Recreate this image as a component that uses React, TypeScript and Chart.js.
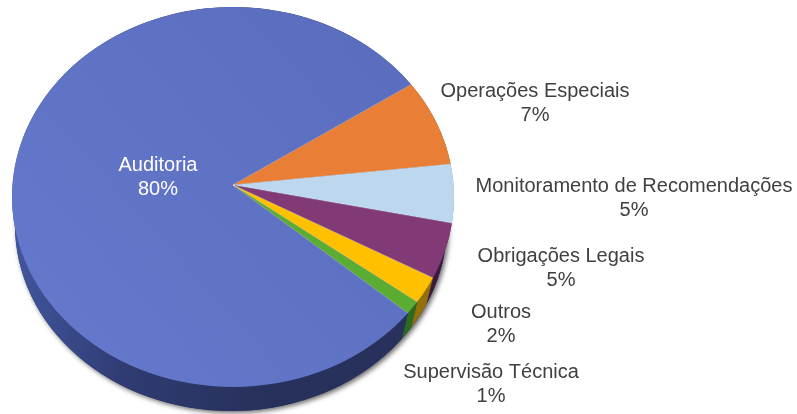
import React, { useEffect, useRef } from "react";
import { Chart, registerables } from "chart.js";

Chart.register(...registerables);

const categories = ["Auditoria", "Operações Especiais", "Monitoramento de Recomendações", "Obrigações Legais", "Outros", "Supervisão Técnica"];
const sliceShares = [81.77, 6.65, 4.27, 4.17, 2.09, 1.04];
const percentLabels = ["80%", "7%", "5%", "5%", "2%", "1%"];
const faceColors = ["#6276c9", "#e97f36", "#bdd7ee", "#813a76", "#ffc000", "#5aad32"];
const sideColors = ["#28315c", "#8a4a1c", "#6f8296", "#3c1a3e", "#94700a", "#2c6a1c"];
const labelAnchors = [
  [158, 171], [535, 97], [634, 192], [561, 262], [501, 318], [491, 378],
];
const labelColors = ["#ffffff", "#404040", "#404040", "#404040", "#404040", "#404040"];

// layout of the tilted disc: apex of the wedges, top face and lower rim ellipses
const APEX_X = 233, APEX_Y = 185;
const TOP = { x: 233, y: 197, rx: 221, ry: 190 };
const LOW = { x: 231, y: 225, rx: 216, ry: 186 };
const WEDGE_RADIUS = 260, LINE_GAP = 23.7;

// parameter on the top ellipse hit by a ray leaving the apex at the given angle
function rayParam(angle: number) {
  const dx = Math.cos(angle) / TOP.rx;
  const dy = Math.sin(angle) / TOP.ry;
  const ox = (APEX_X - TOP.x) / TOP.rx;
  const oy = (APEX_Y - TOP.y) / TOP.ry;
  const a = dx * dx + dy * dy;
  const b = 2 * (ox * dx + oy * dy);
  const c = ox * ox + oy * oy - 1;
  const t = (-b + Math.sqrt(b * b - 4 * a * c)) / (2 * a);
  return Math.atan2(oy + t * dy, ox + t * dx);
}

const piePlugin = {
  id: "tiltedPie",
  beforeDatasetsDraw(chart: any) {
    const ctx: CanvasRenderingContext2D = chart.ctx;
    const arcs = chart.getDatasetMeta(0).data;
    // soft shadow under the rim
    ctx.save();
    ctx.shadowColor = "rgba(0,0,0,0.6)";
    ctx.shadowBlur = 5;
    ctx.shadowOffsetX = 2;
    ctx.shadowOffsetY = 2;
    ctx.fillStyle = "#28315c";
    ctx.beginPath();
    ctx.ellipse(LOW.x, LOW.y, LOW.rx, LOW.ry, 0, 0, Math.PI * 2);
    ctx.fill();
    ctx.restore();
    // rim of every slice
    arcs.forEach((arc: any, i: number) => {
      const t0 = rayParam(arc.startAngle);
      let t1 = rayParam(arc.endAngle);
      if (t1 <= t0) t1 += Math.PI * 2;
      if (i === 0) {
        const g = ctx.createLinearGradient(TOP.x - TOP.rx, 0, TOP.x + 30, 0);
        g.addColorStop(0, "#42569f");
        g.addColorStop(0.45, "#2f3b72");
        g.addColorStop(1, sideColors[0]);
        ctx.fillStyle = g;
      } else {
        ctx.fillStyle = sideColors[i];
      }
      ctx.beginPath();
      ctx.ellipse(TOP.x, TOP.y, TOP.rx, TOP.ry, 0, t0, t1);
      ctx.ellipse(LOW.x, LOW.y, LOW.rx, LOW.ry, 0, t1, t0, true);
      ctx.closePath();
      ctx.fill();
    });
    // the round wedges are cut to the elliptical face
    ctx.save();
    ctx.beginPath();
    ctx.ellipse(TOP.x, TOP.y, TOP.rx, TOP.ry, 0, 0, Math.PI * 2);
    ctx.clip();
  },
  afterDatasetsDraw(chart: any) {
    const ctx: CanvasRenderingContext2D = chart.ctx;
    ctx.restore();
    ctx.save();
    ctx.font = '20px "Liberation Sans"';
    ctx.textAlign = "center";
    ctx.textBaseline = "alphabetic";
    categories.forEach((name, i) => {
      const [x, y] = labelAnchors[i];
      ctx.fillStyle = labelColors[i];
      ctx.fillText(name, x, y);
      ctx.fillText(percentLabels[i], x, y + LINE_GAP);
    });
    ctx.restore();
  },
};

export default function App() {
  const ref = useRef<HTMLCanvasElement>(null);
  useEffect(() => {
    document.body.style.margin = "0";
    const canvas = ref.current!;
    const c2d = canvas.getContext("2d")!;
    const blue = c2d.createLinearGradient(TOP.x - TOP.rx, 400, TOP.x + TOP.rx, 0);
    blue.addColorStop(0, "#667ace");
    blue.addColorStop(1, "#586bbb");
    const chart = new Chart(canvas, {
      type: "pie",
      data: {
        labels: categories,
        datasets: [{
          data: sliceShares,
          backgroundColor: [blue, ...faceColors.slice(1)],
          borderWidth: 0.6,
          borderColor: "rgba(255,255,255,0.35)",
          clip: false,
        } as any],
      },
      options: {
        animation: false,
        responsive: false,
        radius: WEDGE_RADIUS,
        rotation: 126.18,
        layout: { padding: { right: 797 - 2 * APEX_X, bottom: 414 - 2 * APEX_Y } },
        plugins: { legend: { display: false }, tooltip: { enabled: false } },
      } as any,
      plugins: [piePlugin],
    });
    return () => chart.destroy();
  }, []);
  return <canvas ref={ref} width={797} height={414} style={{ display: "block" }} />;
}
